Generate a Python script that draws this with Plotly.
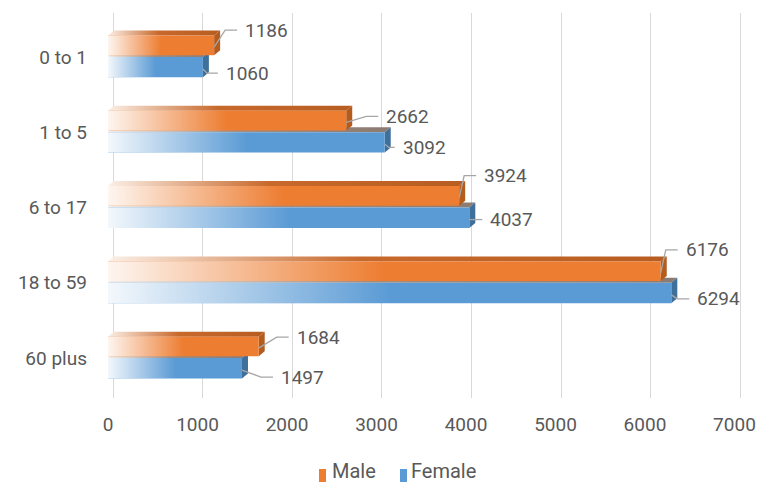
import plotly.graph_objects as go

# ---------------- data ----------------
categories = ["0 to 1", "1 to 5", "6 to 17", "18 to 59", "60 plus"]
male = [1186, 2662, 3924, 6176, 1684]
female = [1060, 3092, 4037, 6294, 1497]
x_tick_values = [0, 1000, 2000, 3000, 4000, 5000, 6000, 7000]
series_names = ["Male", "Female"]

# label placement (pixels relative to bar end / row centre)
male_label_dx = [31, 40, 25, 25, 38]
male_label_dy = [-27, -16, -32, -33, -21]
female_label_dx = [23, 18, 21, 26, 39]
female_label_dy = [16, 15, 12, 16, 19]

# ---------------- layout constants ----------------
W, H = 769, 484
L, R, T, B = 108, 27, 13, 86
PW, PH = W - L - R, H - T - B
FRONT_RANGE = [0, 7084]
BACK_RANGE = [-55.8, 7020]
Y_RANGE = [4.53, -0.585]
XU = (FRONT_RANGE[1] - FRONT_RANGE[0]) / PW   # data units per px (x)
YU = (Y_RANGE[0] - Y_RANGE[1]) / PH           # data units per px (y, down)

ORANGE = "#ED7D31"
BLUE = "#5B9BD5"
ORANGE_SIDE = "#B45B1E"
BLUE_SIDE = "#3F6F9B"
TEXT = "#595959"
FONT = "Roboto"

M_OFF, M_W = -0.285, 0.26
F_OFF, F_W = 0.0, 0.27
DX, DY = 6 * XU, 5 * YU

rows = list(range(len(categories)))


def px_x(p):
    return (p - L) / PW


def px_y(p):
    return (H - B - p) / PH


fig = go.Figure()

# dummy trace for base (back wall / grid) subplot
fig.add_trace(go.Scatter(x=[None], y=[None], xaxis="x", yaxis="y",
                         showlegend=False, hoverinfo="skip"))


def top_face(v, top):
    return [0, v, v + DX, DX, 0], [top, top, top - DY, top - DY, top]


def side_face(v, top, bot):
    return [v, v + DX, v + DX, v, v], [top, top - DY, bot - DY, bot, top]


def add_depth(values, off, width, top_scale, side_color):
    sx, sy = [], []
    for i, v in zip(rows, values):
        top = i + off
        bot = i + off + width
        xs, ys = top_face(v, top)
        fig.add_trace(go.Scatter(
            x=xs, y=ys, xaxis="x2", yaxis="y", mode="lines", fill="toself",
            line=dict(width=0), fillgradient=dict(type="horizontal", colorscale=top_scale),
            showlegend=False, hoverinfo="skip"))
        xs, ys = side_face(v, top, bot)
        sx += xs + [None]
        sy += ys + [None]
    fig.add_trace(go.Scatter(
        x=sx, y=sy, xaxis="x2", yaxis="y", mode="lines", fill="toself",
        fillcolor=side_color, line=dict(width=0), showlegend=False, hoverinfo="skip"))


# depth faces (behind front faces)
add_depth(female, F_OFF, F_W,
          [[0, "#F2ECE8"], [0.45, "#A48C7E"], [1, "#8C7B72"]], BLUE_SIDE)
add_depth(male, M_OFF, M_W,
          [[0, "#FBEFE6"], [0.45, "#C8692C"], [1, "#B75D21"]], ORANGE_SIDE)

# front faces (bars)
fig.add_trace(go.Bar(
    name=series_names[0], y=rows, x=male, orientation="h",
    xaxis="x3", yaxis="y", width=M_W, offset=M_OFF,
    marker=dict(color=ORANGE, line=dict(width=0)), hoverinfo="x", showlegend=False))
fig.add_trace(go.Bar(
    name=series_names[1], y=rows, x=female, orientation="h",
    xaxis="x3", yaxis="y", width=F_W, offset=F_OFF,
    marker=dict(color=BLUE, line=dict(width=0)), hoverinfo="x", showlegend=False))

# gradient wash over the front faces
wash = [[0, "rgba(255,255,255,0.93)"], [0.5, "rgba(255,255,255,0)"], [1, "rgba(255,255,255,0)"]]
for values, off, width in ((male, M_OFF, M_W), (female, F_OFF, F_W)):
    for i, v in zip(rows, values):
        top, bot = i + off, i + off + width
        fig.add_trace(go.Scatter(
            x=[0, v, v, 0, 0], y=[top, top, bot, bot, top], xaxis="x3", yaxis="y",
            mode="lines", fill="toself", line=dict(width=0),
            fillgradient=dict(type="horizontal", colorscale=wash),
            showlegend=False, hoverinfo="skip"))

# leader lines + labels
annotations = []
for values, ldx, ldy, anchor in ((male, male_label_dx, male_label_dy, -10),
                                 (female, female_label_dx, female_label_dy, 12)):
    lx, ly = [], []
    for i, v, dx, dy in zip(rows, values, ldx, ldy):
        elbow = max(dx - 20, 4)
        lx += [v, v + elbow * XU, v + (dx - 8) * XU, None]
        ly += [i + anchor * YU, i + dy * YU, i + dy * YU, None]
        annotations.append(dict(
            x=v, y=i, xref="x3", yref="y", xshift=dx - 2, yshift=-dy,
            text=f"{v}", showarrow=False, xanchor="left", yanchor="middle",
            font=dict(family=FONT, size=19, color=TEXT)))
    fig.add_trace(go.Scatter(
        x=lx, y=ly, xaxis="x3", yaxis="y", mode="lines",
        line=dict(color="#A6A6A6", width=1.3), showlegend=False, hoverinfo="skip"))

# custom legend (narrow swatches like the reference)
shapes = []
for name, color, sw_left, txt_left in ((series_names[0], ORANGE, 319, 331),
                                       (series_names[1], BLUE, 400, 410)):
    shapes.append(dict(type="rect", xref="paper", yref="paper",
                       x0=px_x(sw_left), x1=px_x(sw_left + 7),
                       y0=px_y(482), y1=px_y(469),
                       fillcolor=color, line=dict(width=0)))
    annotations.append(dict(x=px_x(txt_left), y=px_y(483.5), xref="paper", yref="paper",
                            text=name, showarrow=False, xanchor="left", yanchor="bottom",
                            borderpad=0,
                            font=dict(family=FONT, size=20, color=TEXT)))

fig.update_layout(
    width=W, height=H,
    margin=dict(l=L, r=R, t=T, b=B),
    paper_bgcolor="white", plot_bgcolor="white",
    barmode="overlay",
    font=dict(family=FONT, size=19, color=TEXT),
    xaxis=dict(range=BACK_RANGE, tickvals=x_tick_values, showticklabels=False,
               showgrid=True, gridcolor="#D9D9D9", gridwidth=1, zeroline=False,
               showline=False, ticks=""),
    xaxis2=dict(range=FRONT_RANGE, overlaying="x", anchor="y", side="bottom",
                tickvals=x_tick_values, ticktext=[str(t) for t in x_tick_values],
                showgrid=False, zeroline=False, showline=False, ticks="",
                ticklabelstandoff=13,
                tickfont=dict(family=FONT, size=19, color=TEXT)),
    xaxis3=dict(range=FRONT_RANGE, overlaying="x", anchor="y", visible=False),
    yaxis=dict(range=Y_RANGE, tickvals=rows, ticktext=categories,
               showgrid=False, zeroline=False, showline=False, ticks="",
               ticklabelstandoff=20,
               tickfont=dict(family=FONT, size=19, color=TEXT)),
    annotations=annotations,
    shapes=shapes,
    showlegend=False,
)

fig.write_html("out.html")
